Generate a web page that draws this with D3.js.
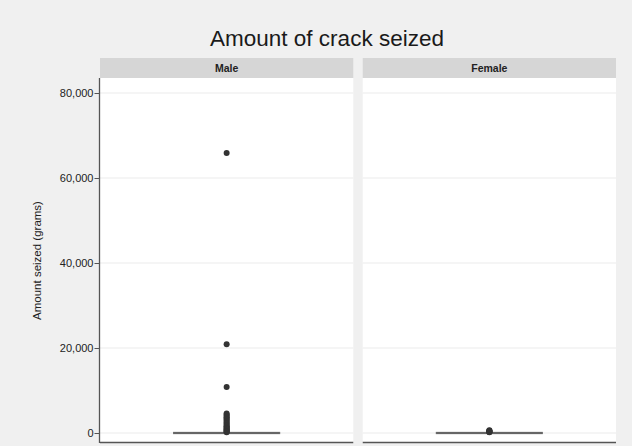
<!DOCTYPE html>
<html>
<head>
<meta charset="utf-8">
<script src="https://cdn.jsdelivr.net/npm/d3@7"></script>
<style>
  html, body { margin: 0; padding: 0; background: #f0f0f0; }
  svg { display: block; font-family: "Liberation Sans", Arial, sans-serif; }
</style>
</head>
<body>
<svg id="chart" width="632" height="446"></svg>
<script>
// Facets and their box summaries (grams)
const groups = ["Male", "Female"];
const boxMin = [0, 0];
const boxQ1 = [0, 0];
const boxMedian = [0, 0];
const boxQ3 = [0, 0];
const boxMax = [0, 0];

// Outlying seizures per facet (grams)
const maleOutliers = [65900, 20900, 10800, 4600, 4300, 4000, 3700, 3400, 3100, 2800, 2500,
                      2200, 1900, 1600, 1400, 1200, 1000, 800, 600, 450, 300, 200];
const femaleOutliers = [650, 550, 450, 380, 300, 220, 150];
const outliers = [maleOutliers, femaleOutliers];

const yTicks = [0, 20000, 40000, 60000, 80000];

const svg = d3.select("#chart");
const W = 632, H = 446;

svg.append("rect").attr("width", W).attr("height", H).attr("fill", "#f0f0f0");

const panelTop = 78, panelBottom = 443;
const stripH = 20;
const panelX = d3.scaleBand().domain(groups).range([100, 616]).paddingInner(0.036);

const y = d3.scaleLinear().domain([0, 80000]).range([433, 93]);

// Title
svg.append("text")
  .attr("x", 327).attr("y", 46)
  .attr("text-anchor", "middle")
  .attr("font-size", 22.5)
  .attr("fill", "#1a1a1a")
  .text("Amount of crack seized");

// Y axis title
svg.append("text")
  .attr("transform", `translate(41,${(panelTop + panelBottom) / 2}) rotate(-90)`)
  .attr("text-anchor", "middle")
  .attr("font-size", 11.5)
  .attr("fill", "#222")
  .text("Amount seized (grams)");

groups.forEach((g, i) => {
  const x0 = panelX(g), bw = panelX.bandwidth();
  const cx = x0 + bw / 2;

  // strip
  svg.append("rect").attr("x", x0).attr("y", panelTop - stripH)
    .attr("width", bw).attr("height", stripH).attr("fill", "#d6d6d6");
  svg.append("text").attr("x", cx).attr("y", panelTop - 6)
    .attr("text-anchor", "middle").attr("font-size", 10.5).attr("font-weight", "bold")
    .attr("fill", "#222").text(g);

  // panel
  svg.append("rect").attr("x", x0).attr("y", panelTop)
    .attr("width", bw).attr("height", panelBottom - panelTop).attr("fill", "#ffffff");

  // gridlines
  svg.append("g").selectAll("line").data(yTicks).join("line")
    .attr("x1", x0).attr("x2", x0 + bw)
    .attr("y1", d => y(d)).attr("y2", d => y(d))
    .attr("stroke", "#ebebeb").attr("stroke-width", 1);

  // box (collapsed near zero at this scale)
  const boxW = bw * 0.42;
  svg.append("line").attr("x1", cx).attr("x2", cx)
    .attr("y1", y(boxMin[i])).attr("y2", y(boxMax[i]))
    .attr("stroke", "#666").attr("stroke-width", 1.5);
  svg.append("rect").attr("x", cx - boxW / 2).attr("width", boxW)
    .attr("y", y(boxQ3[i]) - 0.75).attr("height", Math.max(1.5, y(boxQ1[i]) - y(boxQ3[i])))
    .attr("fill", "#ffffff").attr("stroke", "#777").attr("stroke-width", 0.8);
  svg.append("line").attr("x1", cx - boxW / 2).attr("x2", cx + boxW / 2)
    .attr("y1", y(boxMedian[i])).attr("y2", y(boxMedian[i]))
    .attr("stroke", "#666").attr("stroke-width", 2);

  // outliers
  svg.append("g").selectAll("circle").data(outliers[i]).join("circle")
    .attr("cx", cx).attr("cy", d => y(d)).attr("r", 3)
    .attr("fill", "#333");

  // bottom axis line
  svg.append("line").attr("x1", x0).attr("x2", x0 + bw)
    .attr("y1", panelBottom - 0.5).attr("y2", panelBottom - 0.5)
    .attr("stroke", "#555").attr("stroke-width", 1.5);
});

// Left axis
const yAxis = d3.axisLeft(y).tickValues(yTicks).tickSize(5).tickSizeOuter(0)
  .tickFormat(d3.format(","));
const ag = svg.append("g").attr("transform", "translate(99.5,0)").call(yAxis);
ag.select(".domain").remove();
ag.append("line").attr("x1", 0).attr("x2", 0).attr("y1", panelTop).attr("y2", panelBottom)
  .attr("stroke", "#555").attr("stroke-width", 1.3);
ag.selectAll(".tick line").attr("stroke", "#555");
ag.selectAll(".tick text").attr("font-size", 11).attr("fill", "#222")
  .attr("font-family", "'Liberation Sans Narrow', 'Liberation Sans', Arial, sans-serif")
  .attr("x", -6);
</script>
</body>
</html>
